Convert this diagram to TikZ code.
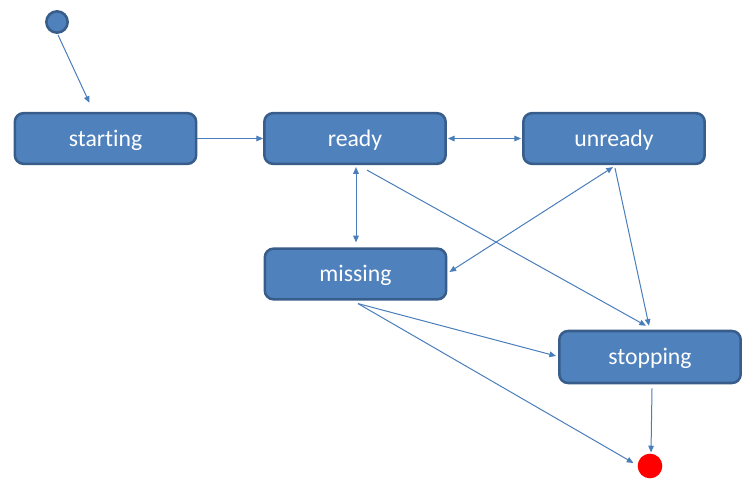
\documentclass[tikz,border=0pt]{standalone}
\usepackage{fontspec}
\setmainfont[Ligatures=NoCommon]{Carlito}
\usetikzlibrary{arrows.meta,calc}
\definecolor{boxfill}{HTML}{4F81BD}
\definecolor{boxedge}{HTML}{385D8A}
\definecolor{linec}{HTML}{4A7EBB}
\begin{document}
\begin{tikzpicture}[x=0.75pt,y=-0.75pt,
  state/.style={draw=boxedge,fill=boxfill,line width=1.9pt,rounded corners=6.5pt,
    minimum width=136pt,minimum height=38pt,inner sep=0pt,text=white,
    text height=13.6pt,text depth=2pt,
    font=\fontsize{17.8}{20}\selectfont},
  conn/.style={draw=linec,line width=0.75pt,-{Triangle[length=5pt,width=4.2pt]}},
  bconn/.style={draw=linec,line width=0.75pt,{Triangle[length=5pt,width=4.2pt]}-{Triangle[length=5pt,width=4.2pt]}}]
\useasboundingbox (0,0) rectangle (755,488);
\node[circle,draw=boxedge,fill=boxfill,line width=1.9pt,minimum size=16pt,inner sep=0pt] (start) at (57,22) {};
\node[circle,fill=red,minimum size=18.5pt,inner sep=0pt] (end) at (650,466) {};
\node[state] (starting) at (105.5,138.5) {starting};
\node[state] (ready) at (355,138.5) {ready};
\node[state] (unready) at (614,138.5) {unready};
\node[state] (missing) at (355.5,274) {missing};
\node[state,minimum height=39pt] (stopping) at (650,357) {stopping};
\draw[conn] ($(start.south)+(1,1)$) -- ($(starting.north)+(-16,-9)$);
\draw[conn] (starting.east) -- (ready.west);
\draw[bconn] ($(ready.east)+(1,0)$) -- ($(unready.west)+(-1,0)$);
\draw[bconn] ($(ready.south)+(1,2)$) -- ($(missing.north)+(0.5,-5)$);
\draw[conn] ($(ready.south)+(12,5)$) -- ($(stopping.north)+(-4,-4)$);
\draw[bconn] ($(unready.south)+(-1,2)$) -- ($(missing.east)+(2,-2)$);
\draw[conn] ($(unready.south)+(1,3)$) -- ($(stopping.north)+(-1,-4)$);
\draw[conn] ($(missing.south)+(2.5,3)$) -- ($(stopping.west)+(-2,-1)$);
\draw[conn] ($(missing.south)+(2.5,3)$) -- ($(end.west)+(-4,-3)$);
\draw[conn] ($(stopping.south)+(2,4)$) -- ($(end.north)+(1,-1)$);
\end{tikzpicture}
\end{document}
